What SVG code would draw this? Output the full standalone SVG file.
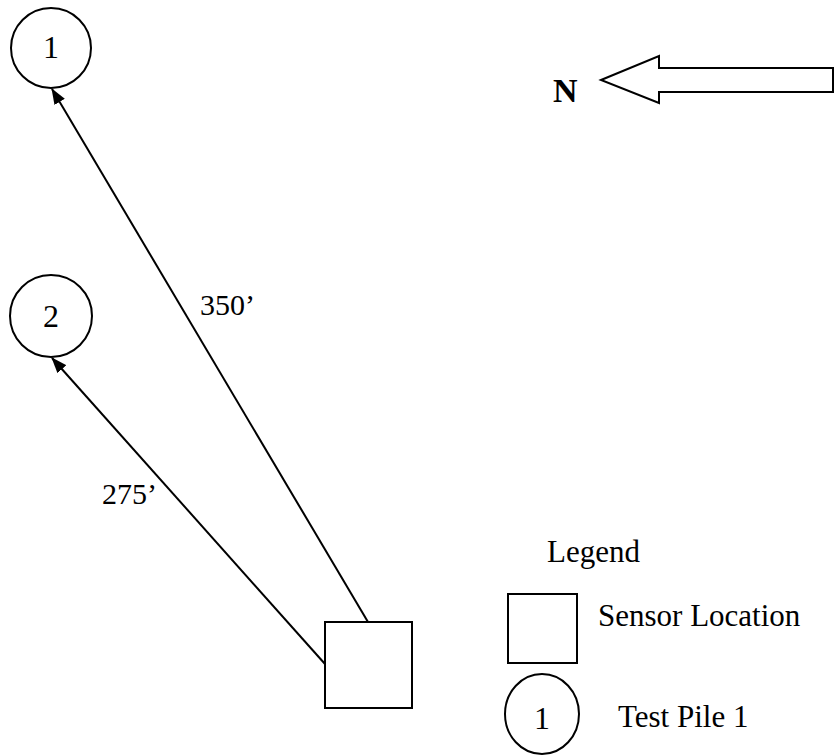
<svg xmlns="http://www.w3.org/2000/svg" width="838" height="756" viewBox="0 0 838 756">
<style>
.s{fill:#fff;stroke:#000;stroke-width:2}
.t{font-family:"Liberation Serif","Times New Roman",serif;font-size:30px;fill:#000}
.lg{font-size:31px}
.d{font-size:32px}
.c{text-anchor:middle}
.ln{stroke:#000;stroke-width:2;fill:none}
</style>
<defs>
<marker id="ah" markerWidth="16" markerHeight="12" refX="15" refY="6" orient="auto" markerUnits="userSpaceOnUse">
<path d="M0,0 L16,6 L0,12 Z" fill="#000"/>
</marker>
</defs>
<rect width="838" height="756" fill="#fff"/>
<g id="pile1">
<circle class="s" cx="51" cy="48" r="40"/>
<text class="t d c" x="51" y="58">1</text>
</g>
<g id="pile2">
<circle class="s" cx="51" cy="316" r="41"/>
<text class="t d c" x="51" y="327">2</text>
</g>
<g id="sensor">
<rect class="s" x="325" y="622" width="87" height="86"/>
</g>
<g id="connectors">
<line class="ln" x1="368" y1="622" x2="52" y2="89" marker-end="url(#ah)"/>
<line class="ln" x1="325" y1="664" x2="52" y2="358" marker-end="url(#ah)"/>
<text class="t" x="200" y="315">350’</text>
<text class="t" x="102" y="504">275’</text>
</g>
<g id="north">
<polygon class="s" points="601,80 659,56 659,68 833,68 833,92 659,92 659,103"/>
<text class="t" x="553" y="102" style="font-weight:bold;font-size:34px">N</text>
</g>
<g id="legend">
<text class="t lg" x="547" y="562">Legend</text>
<rect class="s" x="508" y="594" width="69" height="69"/>
<text class="t lg" x="598" y="626">Sensor Location</text>
<ellipse class="s" cx="542" cy="714" rx="37" ry="40"/>
<text class="t d c" x="542" y="729">1</text>
<text class="t lg" x="618" y="727">Test Pile 1</text>
</g>
</svg>
